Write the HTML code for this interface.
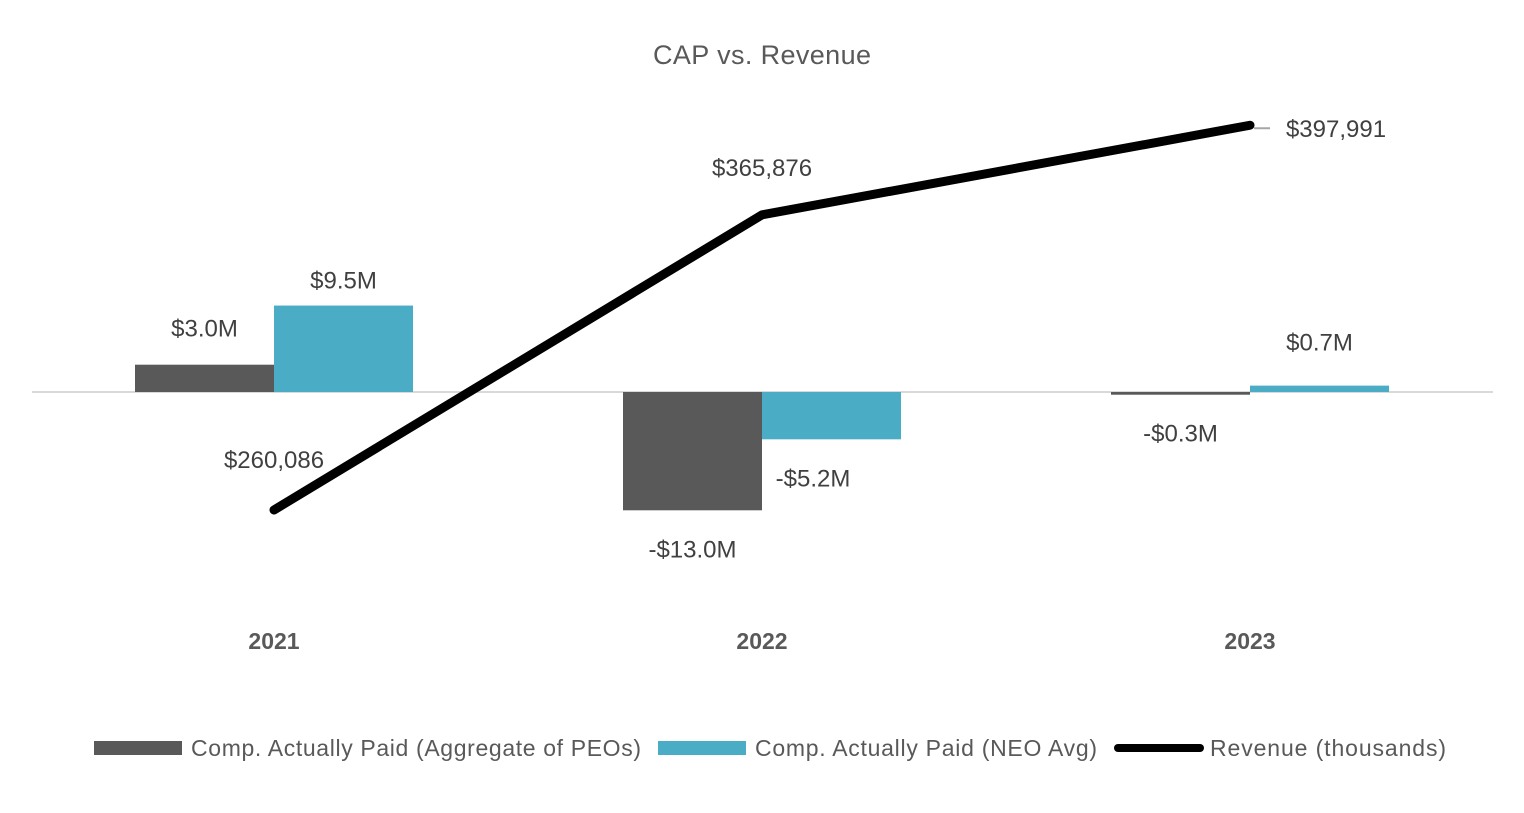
<!DOCTYPE html>
<html><head><meta charset="utf-8"><style>
body{margin:0;background:#fff;}
svg text{font-family:"Liberation Sans",sans-serif;}
</style></head><body>
<svg width="1524" height="808" viewBox="0 0 1524 808">
<text x="762" y="64" text-anchor="middle" font-size="27" textLength="218" fill="#595959">CAP vs. Revenue</text>
<line x1="32" y1="392" x2="1493" y2="392" stroke="#d9d9d9" stroke-width="2"/>
<g id="bars"></g>
<g id="line"></g>
<g id="labels"></g>
<g>
<rect x="94" y="741" width="88" height="14" fill="#595959"/>
<text x="191" y="756" font-size="23" textLength="450" fill="#595959">Comp. Actually Paid (Aggregate of PEOs)</text>
<rect x="658" y="741" width="88" height="14" fill="#4BACC6"/>
<text x="755" y="756" font-size="23" textLength="342" fill="#595959">Comp. Actually Paid (NEO Avg)</text>
<line x1="1118" y1="748" x2="1200" y2="748" stroke="#000" stroke-width="8" stroke-linecap="round"/>
<text x="1210" y="756" font-size="23" textLength="236" fill="#595959">Revenue (thousands)</text>
</g>
</svg>
<script>
const categories=["2021","2022","2023"];
const peoValues=[3.0,-13.0,-0.3];
const neoValues=[9.5,-5.2,0.7];
const revenueValues=[260086,365876,397991];
const peoLabels=["$3.0M","-$13.0M","-$0.3M"];
const neoLabels=["$9.5M","-$5.2M","$0.7M"];
const revenueLabels=["$260,086","$365,876","$397,991"];

const NS="http://www.w3.org/2000/svg";
const zeroY=392, pxPerM=9.1;
function xCat(i){return 274+i*488;}
function yBar(v){return zeroY-v*pxPerM;}
function yRev(v){return 510-(v-260086)*0.00279;}
function mk(tag,attrs,parent){const e=document.createElementNS(NS,tag);for(const k in attrs)e.setAttribute(k,attrs[k]);document.getElementById(parent).appendChild(e);return e;}
const bw=139;
const FS=24;
categories.forEach((c,i)=>{
  const cx=xCat(i);
  const p=peoValues[i],n=neoValues[i];
  let r=mk('rect',{x:cx-bw,y:Math.min(yBar(p),zeroY),width:bw,height:Math.max(Math.abs(yBar(p)-zeroY),1.5),fill:'#595959'},'bars');
  
  
  r=mk('rect',{x:cx,y:Math.min(yBar(n),zeroY),width:bw,height:Math.max(Math.abs(yBar(n)-zeroY),1.5),fill:'#4BACC6'},'bars');
  
  
  let t=mk('text',{x:cx,y:649,'text-anchor':'middle','font-size':23,'font-weight':'bold',fill:'#595959'},'labels');
  t.textContent=c;
  
  
  const py=p>=0?yBar(p)-28:yBar(p)+47;
  t=mk('text',{x:cx-bw/2,y:py,'text-anchor':'middle','font-size':FS,fill:'#404040'},'labels');
  t.textContent=peoLabels[i];
  
  
  const ny=n>=0?(i==2?yBar(n)-35:yBar(n)-17):yBar(n)+47;
  const nx=i==1?813:cx+bw/2;
  t=mk('text',{x:nx,y:ny,'text-anchor':'middle','font-size':FS,fill:'#404040'},'labels');
  t.textContent=neoLabels[i];
  
  
});
const pts=revenueValues.map((v,i)=>xCat(i)+','+yRev(v)).join(' ');
const pl=mk('polyline',{points:pts,fill:'none',stroke:'#000','stroke-width':9,'stroke-linecap':'round','stroke-linejoin':'round'},'line');


const lr=mk('line',{x1:xCat(2)+4,y1:yRev(revenueValues[2])+3,x2:xCat(2)+20,y2:yRev(revenueValues[2])+3,stroke:'#a6a6a6','stroke-width':2},'line');


const revPos=[[274,yRev(revenueValues[0])-42],[762,yRev(revenueValues[1])-39],[1336,yRev(revenueValues[2])+12]];
revenueValues.forEach((v,i)=>{
  const t=mk('text',{x:revPos[i][0],y:revPos[i][1],'text-anchor':'middle','font-size':FS,fill:'#404040'},'labels');
  t.textContent=revenueLabels[i];
  
  
});
</script>
</body></html>
